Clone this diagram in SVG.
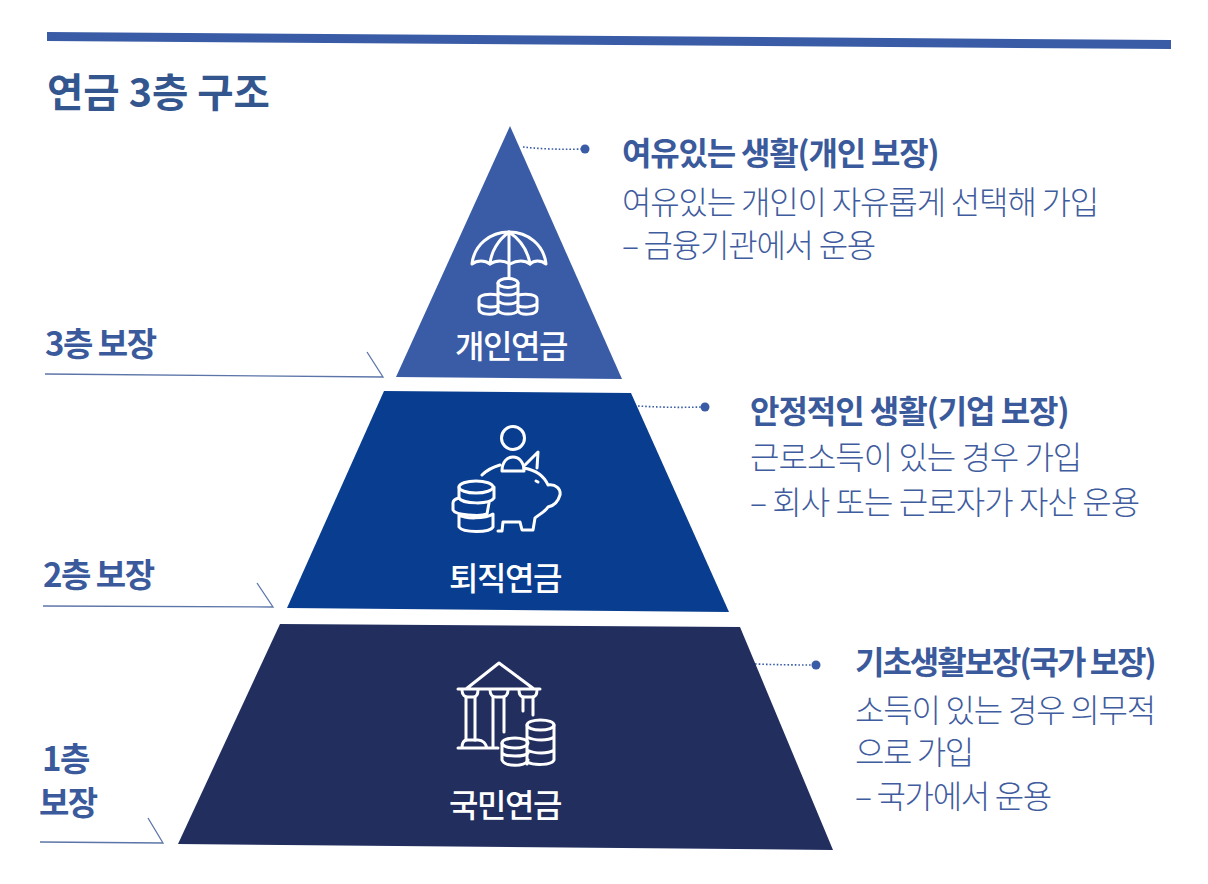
<svg xmlns="http://www.w3.org/2000/svg" width="1208" height="884" viewBox="0 0 1208 884">
<style>
text{font-family:"Noto Sans CJK KR","Noto Sans",sans-serif}
.t{font-size:39.5px;font-weight:700;fill:#34568f}
.l{font-size:33px;font-weight:700;fill:#3a5a9c;letter-spacing:-1.500px}
.h{font-size:32px;font-weight:700;fill:#3a5a9c;letter-spacing:-1.600px}
.b{font-size:32px;font-weight:300;fill:#3f5c9e;letter-spacing:-1.300px}
.n{font-size:32px;font-weight:500;fill:#fff;text-anchor:middle;letter-spacing:-1.500px}
.ic{fill:none;stroke:#fff;stroke-width:3;stroke-linejoin:round;stroke-linecap:round}
.lead{fill:none;stroke:#3a5ca6;stroke-width:1.600;stroke-dasharray:1.600 2}
.ul{fill:none;stroke:#5c75a8;stroke-width:1.300}
.dot{fill:#3a5ca6}
</style>
<g id="top-rule"><polygon points="47,32 1171,40 1171,49 47,41" fill="#3a5ca6"/></g>
<g id="title"><text class="t" x="47" y="107">연금 3층 구조</text></g>

<g id="connectors">
<path class="lead" d="M523,147 Q550,150 582,149"/>
<path class="lead" d="M638,406 Q670,408 702,407"/>
<path class="lead" d="M755,664 Q785,665 812,665"/>
<path class="ul" d="M45,374 L383,377 L367,352"/>
<path class="ul" d="M43,606 L273,607 L257,583"/>
<path class="ul" d="M40,842 L163,843 L148,818"/>
<circle class="dot" cx="585" cy="149" r="4.500"/>
<circle class="dot" cx="705" cy="407" r="4.500"/>
<circle class="dot" cx="816" cy="665" r="4.500"/>
</g>

<g id="tier3">
<polygon points="510,126 622,379 396,377" fill="#3a5ca6"/>
<g class="ic">
<path d="M472,264 C474,245 490,232 509,232 C528,232 544,245 546,264 C541,260 534,260 530,264 C525,260 517,260 510,264 C504,260 496,260 490,264 C485,260 477,260 472,264Z"/>
<path d="M509,232 C498,240 491,252 490,264 M509,232 C521,240 528,252 530,264 M509,232 V264 M509,264 V277"/>
<ellipse cx="508" cy="283" rx="10" ry="4.500"/>
<path d="M498,283 V311 M518,283 V311 M498,292 C502,296 514,296 518,292 M498,301 C502,305 514,305 518,301"/>
<path d="M498,295 C488,293 479,295 479,299 V309 C479,315 495,316 498,311 M479,304 C484,307 492,308 498,306"/>
<path d="M518,295 C528,293 537,295 537,299 V309 C537,315 521,316 518,311 M537,304 C532,307 524,308 518,306"/>
<path d="M498,311 C502,315 514,315 518,311"/>
</g>
<text class="n" x="511" y="358">개인연금</text>
</g>

<g id="tier2">
<polygon points="384,391 631,393 729,612 287,608" fill="#083d8f"/>
<g class="ic">
<circle cx="513" cy="438" r="11.500"/>
<path d="M502,471 C502,462 507,457 513,457 C519,457 524,462 524,471 Z"/>
<path d="M482,475 C487,470 493,467 500,465 M525,465 L538,452 L537,468"/>
<path d="M524,468 C535,470 544,476 548,485 C556,484 561,489 560,495 C558,502 553,506 548,507 C545,512 538,515 535,518 L533,530 H522 L520,522 H503 L502,531 H498"/>
<path d="M536,481 L538,482"/>
<ellipse cx="476" cy="487" rx="17" ry="6"/>
<path d="M459,487 V498 C462,504 490,505 494,498 V487"/>
<path d="M459,498 C455,499 453,501 453,503 V510 C455,515 480,517 487,514 L489,503"/>
<path d="M459,515 V527 C463,533 490,533 493,527 V514 C485,519 465,519 459,515Z"/>
</g>
<text class="n" x="505" y="590">퇴직연금</text>
</g>

<g id="tier1">
<polygon points="280,624 740,627 833,850 178,844" fill="#212e5e"/>
<g class="ic">
<path d="M466,689 L499,663 L534,689 M458,689 H540"/>
<path d="M462,690 C462,695 465,697 468,697 H473 C476,697 478,695 478,690 M490,690 C490,695 493,697 496,697 H502 C505,697 508,695 508,690 M519,690 C519,695 521,697 524,697 H532 C535,697 537,695 537,690"/>
<path d="M466,697 V740 M475,697 V740 M493,697 V747 M504,697 V732 M523,697 V711 M533,697 V715"/>
<path d="M458,748 H498 M462,748 C462,743 464,740 467,740 H478 C483,740 486,744 487,748"/>
<ellipse cx="540.500" cy="725" rx="13.500" ry="5"/>
<path d="M554,725 V760 C552,765 535,766 527,762 M527,725 V764 M527,737 C535,741 548,741 554,737 M527,750 C535,754 548,754 554,750"/>
<ellipse cx="515" cy="743" rx="13" ry="5"/>
<path d="M502,743 V760 C505,767 525,767 528,760 M502,753 C505,757 525,757 528,753"/>
</g>
<text class="n" x="505" y="817">국민연금</text>
</g>

<g id="label3"><text class="l" x="45" y="356">3층 보장</text></g>
<g id="label2"><text class="l" x="43" y="587">2층 보장</text></g>
<g id="label1"><text class="l" x="42" y="771">1층</text><text class="l" x="39" y="815">보장</text></g>

<g id="desc3">
<text class="h" x="622" y="165" textLength="316">여유있는 생활(개인 보장)</text>
<text class="b" x="622" y="214" textLength="476">여유있는 개인이 자유롭게 선택해 가입</text>
<text class="b" x="622" y="257" textLength="253">– 금융기관에서 운용</text>
</g>
<g id="desc2">
<text class="h" x="750" y="423" textLength="318">안정적인 생활(기업 보장)</text>
<text class="b" x="750" y="469" textLength="331">근로소득이 있는 경우 가입</text>
<text class="b" x="750" y="514" textLength="389">– 회사 또는 근로자가 자산 운용</text>
</g>
<g id="desc1">
<text class="h" x="855" y="674" textLength="300">기초생활보장(국가 보장)</text>
<text class="b" x="855" y="722" textLength="300">소득이 있는 경우 의무적</text>
<text class="b" x="855" y="764" textLength="118">으로 가입</text>
<text class="b" x="855" y="808" textLength="196">– 국가에서 운용</text>
</g>
</svg>
